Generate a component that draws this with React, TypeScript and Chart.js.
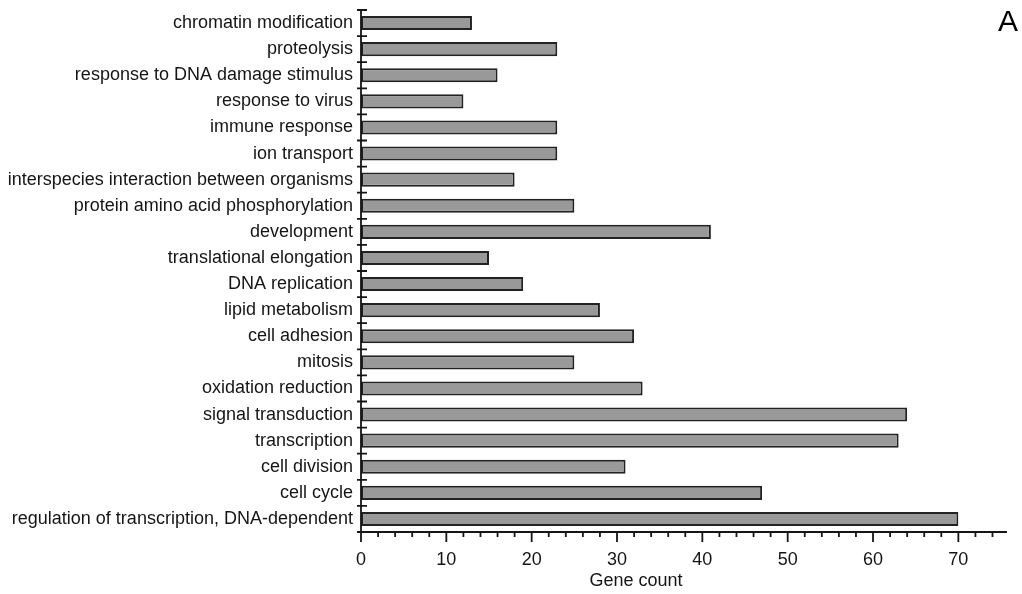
import React, { useEffect, useRef } from "react";
import { Chart, registerables } from "chart.js";

Chart.register(...registerables);

const categories = [
  "chromatin modification",
  "proteolysis",
  "response to DNA damage stimulus",
  "response to virus",
  "immune response",
  "ion transport",
  "interspecies interaction between organisms",
  "protein amino acid phosphorylation",
  "development",
  "translational elongation",
  "DNA replication",
  "lipid metabolism",
  "cell adhesion",
  "mitosis",
  "oxidation reduction",
  "signal transduction",
  "transcription",
  "cell division",
  "cell cycle",
  "regulation of transcription, DNA-dependent",
];

const geneCounts = [13, 23, 16, 12, 23, 23, 18, 25, 41, 15, 19, 28, 32, 25, 33, 64, 63, 31, 47, 70];

const xMin = 0;
const xMax = 75.7;
const minorStep = 2;
const majorStep = 10;

const FONT = "'Liberation Sans', Arial, Helvetica, sans-serif";
const INK = "#151515";

// Axis lines with cross ticks on the category axis and major/minor ticks on the value axis
const axisPlugin = {
  id: "axisTicks",
  afterDraw(chart: any) {
    const { ctx, chartArea } = chart;
    const xs = chart.scales.x;
    const ys = chart.scales.y;
    ctx.save();
    ctx.strokeStyle = INK;
    ctx.lineWidth = 1.8;
    ctx.beginPath();
    // value axis line
    ctx.moveTo(chartArea.left, chartArea.bottom);
    ctx.lineTo(chartArea.right, chartArea.bottom);
    // category axis line (extends down to the major tick length)
    ctx.moveTo(chartArea.left, chartArea.top);
    ctx.lineTo(chartArea.left, chartArea.bottom + 10);
    // category boundary ticks
    for (let i = 0; i <= categories.length; i++) {
      const y = ys.getPixelForValue(i - 0.5);
      ctx.moveTo(chartArea.left - 4, y);
      ctx.lineTo(chartArea.left + 6, y);
    }
    // value ticks
    for (let v = xMin; v <= xMax; v += minorStep) {
      const x = xs.getPixelForValue(v);
      const len = v % majorStep === 0 ? 10 : 5;
      ctx.moveTo(x, chartArea.bottom);
      ctx.lineTo(x, chartArea.bottom + len);
    }
    ctx.stroke();
    ctx.restore();
  },
};

export default function App() {
  const canvasRef = useRef<HTMLCanvasElement | null>(null);

  useEffect(() => {
    if (!canvasRef.current) return;
    const chart = new Chart(canvasRef.current, {
      type: "bar",
      data: {
        labels: categories,
        datasets: [
          {
            data: geneCounts,
            backgroundColor: "#999999",
            borderColor: "#222222",
            borderWidth: 2,
            borderSkipped: false,
            barPercentage: 0.54,
            categoryPercentage: 1,
          },
        ],
      },
      options: {
        indexAxis: "y",
        responsive: false,
        animation: false,
        layout: { padding: { top: 10, right: 15, left: 0, bottom: 0 } },
        plugins: {
          legend: { display: false },
          tooltip: { enabled: false },
        },
        scales: {
          x: {
            type: "linear",
            min: xMin,
            max: xMax,
            grid: { display: false },
            border: { display: false },
            ticks: {
              stepSize: minorStep,
              autoSkip: false,
              maxRotation: 0,
              padding: 9,
              color: INK,
              font: { family: FONT, size: 18 },
              callback: (v: any) => (Number(v) % majorStep === 0 ? String(v) : ""),
            },
            afterFit: (s: any) => {
              s.height = 62;
              s.paddingLeft = 0;
              s.paddingRight = 0;
            },
          },
          y: {
            type: "category",
            grid: { display: false },
            border: { display: false },
            ticks: {
              autoSkip: false,
              padding: 0,
              color: INK,
              font: { family: FONT, size: 18 },
            },
            afterFit: (s: any) => {
              s.width = 361;
              s.paddingTop = 0;
              s.paddingBottom = 0;
            },
          },
        },
      },
      plugins: [axisPlugin],
    });
    return () => chart.destroy();
  }, []);

  return (
    <div style={{ position: "fixed", left: 0, top: 0, width: 1022, height: 594, background: "#fff" }}>
      <canvas ref={canvasRef} width={1022} height={594} style={{ display: "block" }} />
      <div
        style={{
          position: "absolute",
          left: 636,
          top: 570,
          transform: "translateX(-50%)",
          fontFamily: FONT,
          fontSize: 18,
          color: INK,
          whiteSpace: "nowrap",
          lineHeight: "20px",
        }}
      >
        Gene count
      </div>
      <div
        style={{
          position: "absolute",
          left: 998,
          top: 4,
          fontFamily: FONT,
          fontSize: 30,
          color: "#000",
          lineHeight: "34px",
        }}
      >
        A
      </div>
    </div>
  );
}
